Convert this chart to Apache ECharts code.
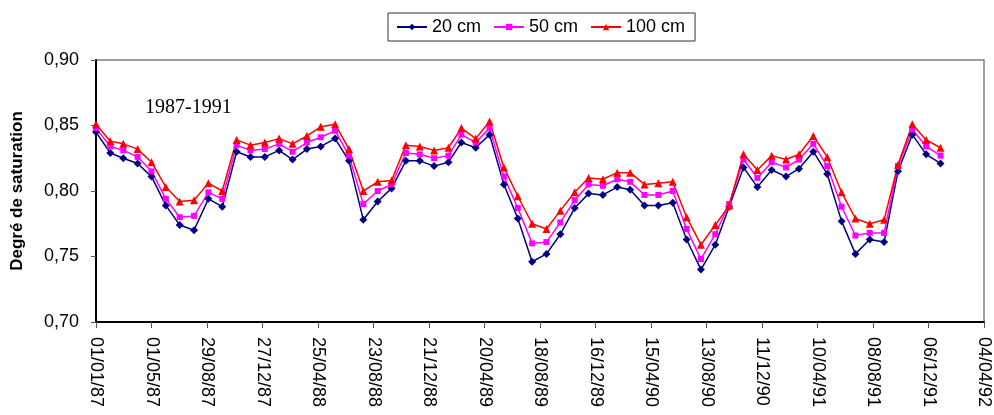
<!DOCTYPE html>
<html>
<head>
<meta charset="utf-8">
<script src="https://cdn.jsdelivr.net/npm/echarts@6/dist/echarts.min.js"></script>
<style>
html,body{margin:0;padding:0;background:#fff;}
#chart{width:994px;height:415px;}
</style>
</head>
<body>
<div id="chart"></div>
<script>
// Monthly sampling dates (first of month)
const dates = [
  '1987-01-01','1987-02-01','1987-03-01','1987-04-01','1987-05-01','1987-06-01','1987-07-01','1987-08-01','1987-09-01','1987-10-01','1987-11-01','1987-12-01',
  '1988-01-01','1988-02-01','1988-03-01','1988-04-01','1988-05-01','1988-06-01','1988-07-01','1988-08-01','1988-09-01','1988-10-01','1988-11-01','1988-12-01',
  '1989-01-01','1989-02-01','1989-03-01','1989-04-01','1989-05-01','1989-06-01','1989-07-01','1989-08-01','1989-09-01','1989-10-01','1989-11-01','1989-12-01',
  '1990-01-01','1990-02-01','1990-03-01','1990-04-01','1990-05-01','1990-06-01','1990-07-01','1990-08-01','1990-09-01','1990-10-01','1990-11-01','1990-12-01',
  '1991-01-01','1991-02-01','1991-03-01','1991-04-01','1991-05-01','1991-06-01','1991-07-01','1991-08-01','1991-09-01','1991-10-01','1991-11-01','1991-12-01',
  '1992-01-01'
];
const s20 = [
  0.845,0.829,0.825,0.821,0.811,0.789,0.774,0.770,0.794,0.788,0.830,0.826,
  0.826,0.831,0.824,0.832,0.834,0.840,0.823,0.778,0.792,0.802,0.823,0.823,
  0.819,0.822,0.837,0.833,0.843,0.805,0.779,0.746,0.752,0.767,0.787,0.798,
  0.797,0.803,0.801,0.789,0.789,0.791,0.763,0.740,0.759,0.788,0.818,0.803,
  0.816,0.811,0.817,0.830,0.813,0.777,0.752,0.763,0.761,0.815,0.843,0.828,
  0.821
];
const s50 = [
  0.848,0.834,0.831,0.826,0.815,0.794,0.780,0.781,0.799,0.794,0.835,0.831,
  0.832,0.836,0.830,0.837,0.841,0.846,0.827,0.790,0.800,0.805,0.829,0.828,
  0.825,0.827,0.843,0.837,0.848,0.811,0.787,0.760,0.761,0.776,0.793,0.805,
  0.804,0.809,0.807,0.797,0.797,0.800,0.771,0.748,0.767,0.790,0.824,0.810,
  0.822,0.818,0.824,0.836,0.819,0.788,0.766,0.768,0.768,0.819,0.847,0.834,
  0.827
];
const s100 = [
  0.851,0.838,0.836,0.832,0.822,0.803,0.792,0.793,0.806,0.800,0.839,0.835,
  0.837,0.840,0.836,0.842,0.849,0.851,0.832,0.800,0.807,0.808,0.835,0.834,
  0.831,0.833,0.848,0.840,0.853,0.818,0.796,0.775,0.771,0.785,0.799,0.810,
  0.809,0.814,0.814,0.805,0.806,0.807,0.780,0.759,0.774,0.789,0.828,0.816,
  0.827,0.824,0.828,0.842,0.826,0.799,0.779,0.775,0.778,0.820,0.851,0.839,
  0.833
];
const seriesNames = ['20 cm','50 cm','100 cm'];
const yTicks = {min:0.70, max:0.90, step:0.05};
const axisStart = '1987-01-01';
const axisSpanDays = 1920, axisStepDays = 120;

const DAY = 86400000;
const t0 = Date.parse(axisStart + 'T00:00:00Z');
const toDay = d => Math.round((Date.parse(d + 'T00:00:00Z') - t0) / DAY);
const pair = arr => arr.map((v,i) => [toDay(dates[i]), v]);
const pad = n => (n < 10 ? '0' : '') + n;
const fmtDate = v => {
  const d = new Date(t0 + v * DAY);
  return pad(d.getUTCDate()) + '/' + pad(d.getUTCMonth()+1) + '/' + pad(d.getUTCFullYear() % 100);
};

const chart = echarts.init(document.getElementById('chart'), null, {renderer:'canvas'});
const mk = (name, data, color, symbol, size) => ({
  name, type:'line', data: pair(data), symbol, symbolSize: size,
  showSymbol:true, animation:false,
  lineStyle:{color, width:1.5}, itemStyle:{color}
});
chart.setOption({
  backgroundColor:'#fff',
  animation:false,
  title:{
    text:'1987-1991', left:140, top:93,
    textStyle:{fontFamily:'Liberation Serif', fontWeight:'normal', fontSize:20, color:'#000'}
  },
  legend:{
    data:seriesNames, top:13, left:388,
    borderColor:'#333', borderWidth:1, padding:[5,10,5,8],
    itemWidth:30, itemHeight:8, itemGap:12,
    textStyle:{fontFamily:'Liberation Sans', fontSize:18, color:'#000'}
  },
  grid:{left:96, right:10, top:60, bottom:93, show:true, borderColor:'#808080', borderWidth:1.5,
        containLabel:false, outerBoundsMode:'none'},
  xAxis:{
    type:'value', min:0, max:axisSpanDays, interval:axisStepDays,
    axisLine:{show:true, lineStyle:{color:'#000', width:2}},
    axisTick:{show:true, length:6, lineStyle:{color:'#555'}},
    splitLine:{show:false},
    axisLabel:{rotate:-90, margin:15, formatter:fmtDate, fontFamily:'Liberation Sans', fontSize:18, color:'#000'}
  },
  yAxis:{
    type:'value', min:yTicks.min, max:yTicks.max, interval:yTicks.step,
    name:'Degré de saturation', nameLocation:'middle', nameGap:70,
    nameTextStyle:{fontFamily:'Liberation Sans', fontWeight:'bold', fontSize:17, color:'#000'},
    axisLine:{show:true, lineStyle:{color:'#000', width:2}},
    axisTick:{show:true, length:5, lineStyle:{color:'#555'}},
    splitLine:{show:false},
    axisLabel:{margin:17, formatter:v => v.toFixed(2).replace('.', ','), fontFamily:'Liberation Sans', fontSize:18, color:'#000'}
  },
  series:[
    mk(seriesNames[0], s20, '#000080', 'diamond', 8),
    mk(seriesNames[1], s50, '#FF00FF', 'rect', 6),
    mk(seriesNames[2], s100, '#FF0000', 'triangle', 8)
  ]
});
</script>
</body>
</html>
